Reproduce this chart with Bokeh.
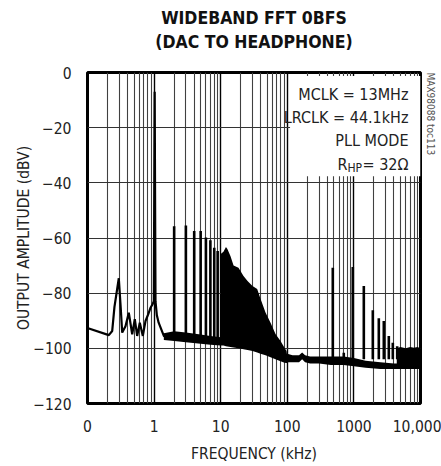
import numpy as np
from bokeh.plotting import figure
from bokeh.models import FixedTicker, Label, BoxAnnotation, Range1d, LogAxis, Title
from bokeh.embed import file_html
from bokeh.resources import INLINE

FONT = "DejaVu Sans Condensed, DejaVu Sans, sans-serif"

# ---- axes ----
x_ticks = [0.1, 1, 10, 100, 1000, 10000]
x_tick_labels = ["0", "1", "10", "100", "1000", "10,000"]
x_minor = [m * 10.0 ** d for d in range(-1, 4) for m in range(2, 10)]
y_ticks = [-120, -100, -80, -60, -40, -20, 0]

# ---- data (frequency in kHz, amplitude in dBV) ----
# low-frequency trace incl. 1kHz fundamental
lf_freq = [0.1, 0.105, 0.209, 0.235, 0.254, 0.295, 0.313, 0.332, 0.372, 0.417,
           0.469, 0.513, 0.557, 0.610, 0.677, 0.743, 0.815, 0.883, 0.95, 0.99,
           1.02, 1.05, 1.10, 1.17, 1.40, 1.66]
lf_db = [-93, -92.8, -95.2, -93.7, -85, -74.6, -84, -94.3, -92, -87.1,
         -94.9, -89.4, -95.5, -90.7, -95.5, -90.1, -87.7, -85.3, -84, -82.9,
         -7, -83, -88, -90.7, -95.5, -96.3]

# noise floor band 1.4k - 10k
fl_freq = [1.4, 2, 3, 5, 7, 10]
fl_top = [-94.5, -93.8, -94.3, -95, -95.5, -96]
fl_bot = [-97, -97.3, -97.8, -98.3, -98.7, -99]

# harmonics 2k - 9k
hd_freq = [2, 3, 4, 5, 6, 7, 8, 9]
hd_db = [-55.7, -55.5, -57.5, -57.5, -59.8, -60.8, -63.5, -64.7]
hd_base = -96

# dense harmonic region 10k - 100k
env_freq = [10, 11, 12, 12.6, 14, 15.6, 18.5, 22, 25.3, 30, 35.3, 39.6, 47.1,
            56, 66.5, 79.1, 90.8, 97.3, 100]
env_top = [-65.8, -65, -63.3, -64, -66.5, -70, -70.8, -73.8, -75.6, -77.4,
           -78.5, -82, -87, -90.7, -94.8, -97.3, -99.8, -101, -103]
env_bot = [-99, -99, -99.2, -99.3, -99.5, -99.7, -100, -100.3, -100.6, -101,
           -101.5, -102, -102.5, -103.2, -104, -104.7, -105.2, -105.3, -105.3]

# high-frequency noise floor 100k - 10M
hf_freq = [100, 120, 150, 167, 185, 220, 300, 450, 700, 1000, 1500, 2500, 4000, 10000]
hf_top = [-102, -102.5, -102.5, -101.5, -102.5, -103, -103, -103, -103, -103.5,
          -104.5, -105, -105.5, -105.5]
hf_bot = [-105, -105, -105, -104, -105, -105.5, -105.5, -106, -106, -106.5,
          -107, -107.5, -107.5, -107.5]

# high-frequency spurs
sp_freq = [482, 705, 962, 1409, 1923, 2366, 2812, 3343, 3838, 4467]
sp_db = [-70.8, -101.6, -70.5, -77.4, -86.2, -89.1, -90.1, -95.5, -98, -99.2]
sp_base = -104

# dense HF noise 4.4M - 10M
hd2_freq = [4400, 5000, 6000, 7000, 8000, 9000, 10000]
hd2_top = [-100, -99.5, -100, -99.5, -99.8, -99.5, -100]
hd2_bot = [-107, -107, -107, -107, -107, -107, -107]

title_lines = ["WIDEBAND FFT 0BFS", "(DAC TO HEADPHONE)"]
annotation_lines = ["MCLK = 13MHz", "LRCLK = 44.1kHz", "PLL MODE"]
figure_id = "MAX98088 toc113"

p = figure(width=441, height=466, x_axis_type="log",
           x_range=Range1d(0.1, 10000), y_range=Range1d(-120, 0),
           output_backend="svg", toolbar_location=None, title=None,
           min_border_left=87, min_border_right=21, min_border_top=72,
           min_border_bottom=63)
p.background_fill_color = "white"
p.border_fill_color = "white"
p.outline_line_color = "black"
p.outline_line_width = 3

xt = FixedTicker(ticks=x_ticks, minor_ticks=x_minor)
p.xaxis.ticker = xt
p.xgrid.ticker = xt
p.xaxis.major_label_overrides = {t: l for t, l in zip(x_ticks, x_tick_labels)}
yt = FixedTicker(ticks=y_ticks)
p.yaxis.ticker = yt
p.ygrid.ticker = yt

p.xgrid.grid_line_color = "black"
p.xgrid.grid_line_width = 1.4
p.xgrid.minor_grid_line_color = "#404040"
p.xgrid.minor_grid_line_width = 1.1
p.ygrid.grid_line_color = "#333333"
p.ygrid.grid_line_width = 1.2

for ax in (p.xaxis[0], p.yaxis[0]):
    ax.axis_line_color = None
    ax.major_tick_line_color = None
    ax.minor_tick_line_color = None
    ax.major_tick_out = 0
    ax.minor_tick_out = 0
    ax.major_label_text_font = FONT
    ax.major_label_text_font_size = "15.5px"
    ax.major_label_text_color = "#222222"
    ax.axis_label_text_font = FONT
    ax.axis_label_text_font_size = "15.5px"
    ax.axis_label_text_font_style = "normal"
    ax.axis_label_text_color = "#222222"

p.xaxis.axis_label = "FREQUENCY (kHz)"
p.yaxis.axis_label = "OUTPUT AMPLITUDE (dBV)"
p.xaxis.major_label_standoff = 16
p.xaxis.axis_label_standoff = 10
p.yaxis.major_label_standoff = 16
p.yaxis.axis_label_standoff = -3

# title lines as labels of empty axes above the frame (inner first)
for txt, standoff in [(title_lines[1], 21), (title_lines[0], 1)]:
    tax = LogAxis(ticker=FixedTicker(ticks=[]), axis_label=txt,
                  axis_line_color=None, major_tick_line_color=None,
                  minor_tick_line_color=None, major_tick_out=0, minor_tick_out=0,
                  major_label_standoff=0, axis_label_standoff=standoff,
                  axis_label_text_font=FONT, axis_label_text_font_style="bold",
                  axis_label_text_font_size="17.5px", axis_label_text_color="#111111")
    p.add_layout(tax, "above")

# trace
p.line(lf_freq, lf_db, line_color="black", line_width=2.2)
p.varea(x=fl_freq, y1=fl_bot, y2=fl_top, fill_color="black")
p.segment(x0=hd_freq, y0=hd_base, x1=hd_freq, y1=hd_db, line_color="black", line_width=2.6)
p.varea(x=env_freq, y1=env_bot, y2=env_top, fill_color="black")
p.varea(x=hf_freq, y1=hf_bot, y2=hf_top, fill_color="black")
p.segment(x0=sp_freq, y0=sp_base, x1=sp_freq, y1=sp_db, line_color="black", line_width=2.6)
p.varea(x=hd2_freq, y1=hd2_bot, y2=hd2_top, fill_color="black")

# annotation box
p.add_layout(BoxAnnotation(left=110, right=10000, top=-1.3, bottom=-37.6,
                           fill_color="white", fill_alpha=1.0, line_color=None))
ann_x = 6600
for txt, yy in zip(annotation_lines, [-7.8, -16.4, -24.7]):
    p.add_layout(Label(x=ann_x, y=yy, text=txt, text_align="right", text_baseline="middle",
                       text_font=FONT, text_font_size="16px", text_color="#222222"))
p.add_layout(Label(x=ann_x, y=-33.3, text="= 32Ω", text_align="right", text_baseline="middle",
                   text_font=FONT, text_font_size="16px", text_color="#222222"))
p.add_layout(Label(x=800, y=-34.6, text="HP", text_align="left", text_baseline="middle",
                   text_font=FONT, text_font_size="12px", text_color="#222222"))
p.add_layout(Label(x=800, y=-33.3, text="R", text_align="right", text_baseline="middle",
                   text_font=FONT, text_font_size="16px", text_color="#222222"))

# side id (right margin)
p.add_layout(Title(text=figure_id, align="left", offset=0, standoff=8,
                   text_font=FONT, text_font_style="normal", text_font_size="10px",
                   text_color="#555555"), "right")

open("out.html", "w").write(file_html(p, INLINE))
